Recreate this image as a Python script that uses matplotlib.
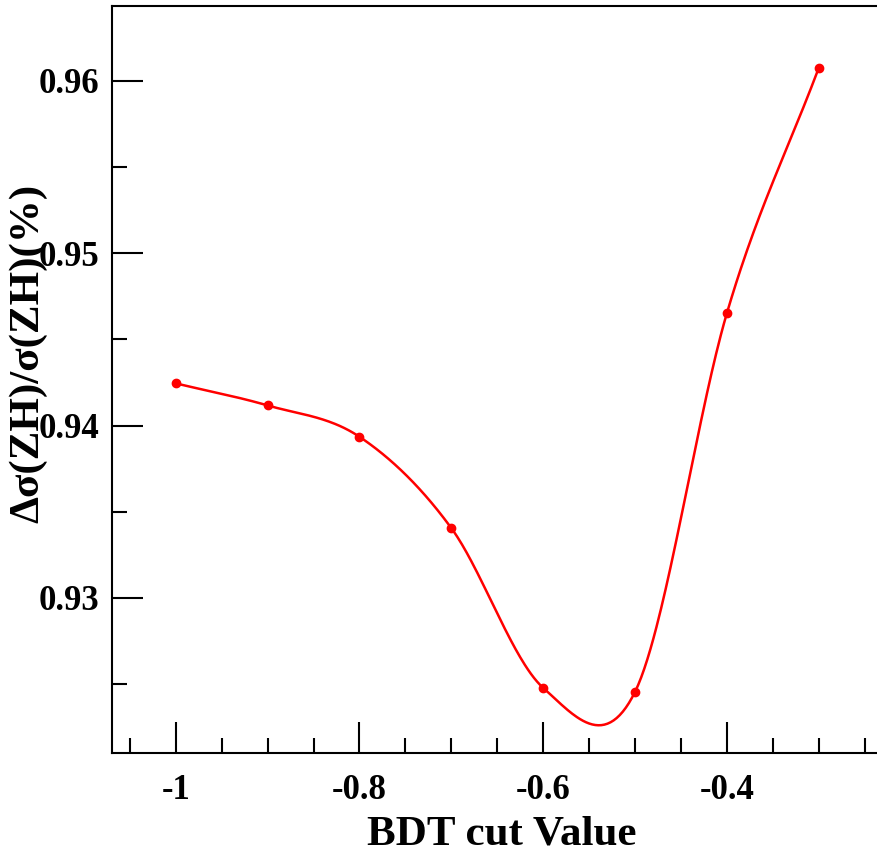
"""BDT cut scan: relative ZH cross-section precision vs cut value."""

import numpy as np
import matplotlib

matplotlib.use("Agg")
import matplotlib.pyplot as plt  # noqa: E402
from matplotlib.ticker import MultipleLocator  # noqa: E402

bdt_cut = [-1.0, -0.9, -0.8, -0.7, -0.6, -0.5, -0.4, -0.3]
precision = [0.94245, 0.94117, 0.93935, 0.93405, 0.92478, 0.92455, 0.94653, 0.96076]


def catmull_rom(x, y, n_seg=60):
    # cubic Hermite with Catmull-Rom tangents, one-sided at the ends
    x = np.asarray(x, float)
    y = np.asarray(y, float)
    m = np.empty_like(y)
    m[1:-1] = (y[2:] - y[:-2]) / (x[2:] - x[:-2])
    m[0] = (y[1] - y[0]) / (x[1] - x[0])
    m[-1] = (y[-1] - y[-2]) / (x[-1] - x[-2])
    xs, ys = [], []
    for i in range(len(x) - 1):
        h = x[i + 1] - x[i]
        t = np.linspace(0, 1, n_seg, endpoint=(i == len(x) - 2))
        h00 = 2 * t**3 - 3 * t**2 + 1
        h10 = t**3 - 2 * t**2 + t
        h01 = -2 * t**3 + 3 * t**2
        h11 = t**3 - t**2
        xs.append(x[i] + t * h)
        ys.append(h00 * y[i] + h10 * h * m[i] + h01 * y[i + 1] + h11 * h * m[i + 1])
    return np.concatenate(xs), np.concatenate(ys)


plt.rcParams["font.family"] = ["Liberation Serif", "DejaVu Serif"]
plt.rcParams["font.weight"] = "bold"

fig = plt.figure(figsize=(8.77, 8.55), dpi=100)
ax = fig.add_axes([0.1274, 0.1193, 0.890, 0.8737])

cx, cy = catmull_rom(bdt_cut, precision)
ax.plot(cx, cy, color="red", lw=1.8)
ax.plot(bdt_cut, precision, "o", color="red", ms=6)

ax.set_xlim(-1.0697, -0.22)
ax.set_ylim(0.9210, 0.96435)
ax.xaxis.set_minor_locator(MultipleLocator(0.05))
ax.yaxis.set_minor_locator(MultipleLocator(0.005))
ax.set_xticks([-1, -0.8, -0.6, -0.4])
ax.set_xticklabels(["-1", "-0.8", "-0.6", "-0.4"])
ax.set_yticks([0.93, 0.94, 0.95, 0.96])
ax.set_yticklabels(["0.93", "0.94", "0.95", "0.96"])

ax.tick_params(which="both", direction="in", top=False, right=False, width=1.5,
               labelsize=25)
ax.tick_params(axis="x", which="major", length=22, pad=15)
ax.tick_params(axis="y", which="major", length=22, pad=9)
ax.tick_params(which="minor", length=11)
for lab in ax.get_xticklabels() + ax.get_yticklabels():
    lab.set_fontweight("bold")
for s in ax.spines.values():
    s.set_linewidth(1.5)

ax.set_xlabel("BDT cut Value", fontsize=31, fontweight="bold", labelpad=6)
ax.set_ylabel("Δσ(ZH)/σ(ZH)(%)", fontsize=31, fontweight="bold")
ax.yaxis.set_label_coords(-0.082, 0.535)

fig.savefig("out.png", dpi=100)
